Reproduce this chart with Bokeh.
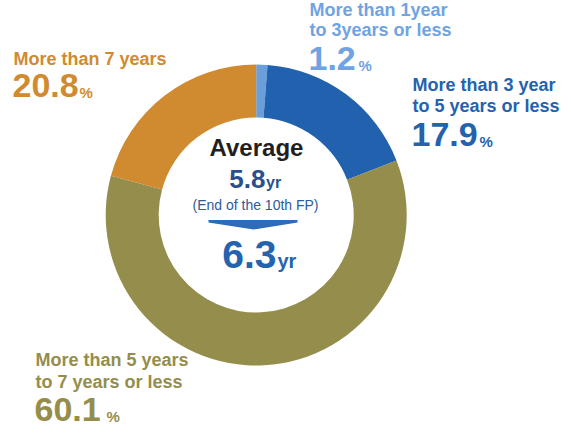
import numpy as np
from bokeh.plotting import figure
from bokeh.models import Range1d, ColumnDataSource
from bokeh.embed import file_html
from bokeh.resources import INLINE
from bokeh.core.properties import value

# ---------------- data ----------------
label_lines = [
    ["More than 1year", "to 3years or less"],
    ["More than 3 year", "to 5 years or less"],
    ["More than 5 years", "to 7 years or less"],
    ["More than 7 years"],
]
shares = [1.2, 17.9, 60.1, 20.8]
avg_title = "Average"
avg_prev = "5.8"
avg_prev_note = "(End of the 10th FP)"
avg_now = "6.3"
avg_unit = "yr"
pct_unit = "%"

# ---------------- styles / layout ----------------
slice_colors = ["#6A9FDC", "#2161AE", "#948D4B", "#D08A30"]
text_colors = ["#6FA3E2", "#2462AE", "#948D4B", "#D08A30"]
FONT = "Liberation Sans"
W, H = 571, 434
CX, CY = 255.7, 214.5
R_OUT, R_IN = 150.5, 97.5
K = 0.37  # baseline correction (fraction of font size)

# anchor (x of left edge, baseline of first line, line gap, number baseline, % x)
label_pos = [
    (309, 16, 20.5, 71, 358),
    (412, 91, 21.5, 147, 479),
    (35, 366, 22, 422, 106),
    (13, 65, 0, 97.5, 79),
]

p = figure(width=W, height=H, output_backend="svg", toolbar_location=None,
           x_range=Range1d(0, W), y_range=Range1d(-H, 0),
           x_axis_type=None, y_axis_type=None, min_border=0)
p.grid.visible = False
p.outline_line_color = None
p.background_fill_color = "white"
p.border_fill_color = "white"

frac = np.array(shares) / np.sum(shares)
ends = np.cumsum(frac)
starts = ends - frac
src = ColumnDataSource(dict(
    start=np.pi / 2 - starts * 2 * np.pi,
    end=np.pi / 2 - ends * 2 * np.pi,
    color=slice_colors,
))
p.annular_wedge(x=CX, y=-CY, inner_radius=R_IN, outer_radius=R_OUT,
                start_angle="start", end_angle="end", direction="clock",
                fill_color="color", line_color=None, source=src)

def txt(x, y, s, size, color, bold=True, align="left"):
    p.text(x=[x], y=[-(y - K * size)], text=[s], text_font=value(FONT),
           text_font_size=f"{size}px", text_font_style="bold" if bold else "normal",
           text_color=color, text_align=align, text_baseline="alphabetic")

for lines, v, col, (lx, ly, gap, ny, px) in zip(label_lines, shares, text_colors, label_pos):
    for i, ln in enumerate(lines):
        txt(lx, ly + i * gap, ln, 18, col)
    txt(lx - 1, ny, f"{v}", 34, col)
    txt(px, ny, pct_unit, 15, col)

# centre
txt(256, 156, avg_title, 24, "#231F20", align="center")
txt(265, 188, avg_prev, 26, "#2A4F8C", align="right")
txt(265.5, 188, avg_unit, 16, "#2A4F8C")
txt(255, 209.5, avg_prev_note, 14, "#2D5B9B", bold=False, align="center")
ax = [208, 297, 297, 253, 208]
ay = [219.5, 219.5, 222, 229, 222]
p.patch(x=ax, y=[-v for v in ay], fill_color="#2E6BB8", line_color=None)
txt(276, 268, avg_now, 39, "#2463AF", align="right")
txt(277, 268, avg_unit, 20, "#2463AF")

open("out.html", "w").write(file_html(p, INLINE))
